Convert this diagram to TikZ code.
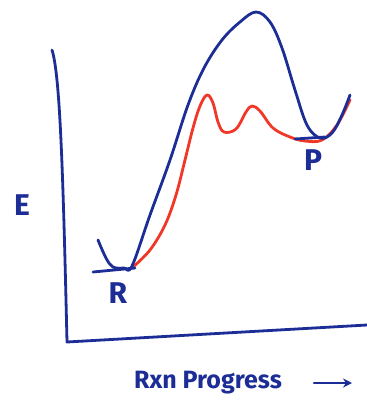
\documentclass[tikz,border=0pt]{standalone}
\usepackage{fontspec}
\newfontfamily\hand{Fira Sans}
\usetikzlibrary{arrows.meta}
\definecolor{penblue}{RGB}{28,45,150}
\definecolor{penred}{RGB}{240,55,40}
\tikzset{
  bluepen/.style={draw=penblue,line width=2.8pt,line cap=round,line join=round},
  redpen/.style={draw=penred,line width=2.8pt,line cap=round,line join=round},
  lbl/.style={text=penblue,font=\hand\bfseries\fontsize{30}{32}\selectfont,inner sep=0pt}
}
\begin{document}
\begin{tikzpicture}[x=1pt,y=-1pt]
\useasboundingbox (0,0) rectangle (367,413);
% axes
\coordinate (ytop) at (52,50);
\coordinate (orig) at (67,342);
\coordinate (xend) at (367,325);
\draw[bluepen] (ytop) .. controls (60,75) and (63,170) .. (orig) -- (xend);
% red curve (drawn first, blue overlaps)
\draw[redpen] plot[smooth,tension=0.6] coordinates {(133,267) (150,250) (165,225) (176,195) (185,160) (193,128) (200,106) (207,95) (213,103) (218,122) (224,132) (236,129) (246,112) (252,106) (260,111) (273,128) (290,137) (305,141) (322,140) (337,125) (350,100)};
% blue curve
\draw[bluepen] plot[smooth,tension=0.6] coordinates {(98,240) (106,258) (113,267) (124,268) (132,266) (150,215) (170,160) (188,105) (204,68) (222,40) (240,22) (256,12) (270,22) (282,48) (295,90) (307,125) (320,138) (332,133) (342,115) (350,95)};
% baselines
\draw[bluepen] (93,272) -- (135,268);
\draw[bluepen] (295,139) -- (325,137);
% labels
\node[lbl] (E) at (22,205) {E};
\node[lbl] (R) at (118,293) {R};
\node[lbl] (P) at (313,160) {P};
\node[lbl,font=\hand\bfseries\fontsize{25}{28}\selectfont] (rxn) at (208,383) {Rxn Progress};
\coordinate (arrEnd) at (352,383);
\draw[bluepen,-{Stealth[length=9pt,width=9pt]}] ([xshift=32pt]rxn.east) -- (arrEnd);
\end{tikzpicture}
\end{document}
